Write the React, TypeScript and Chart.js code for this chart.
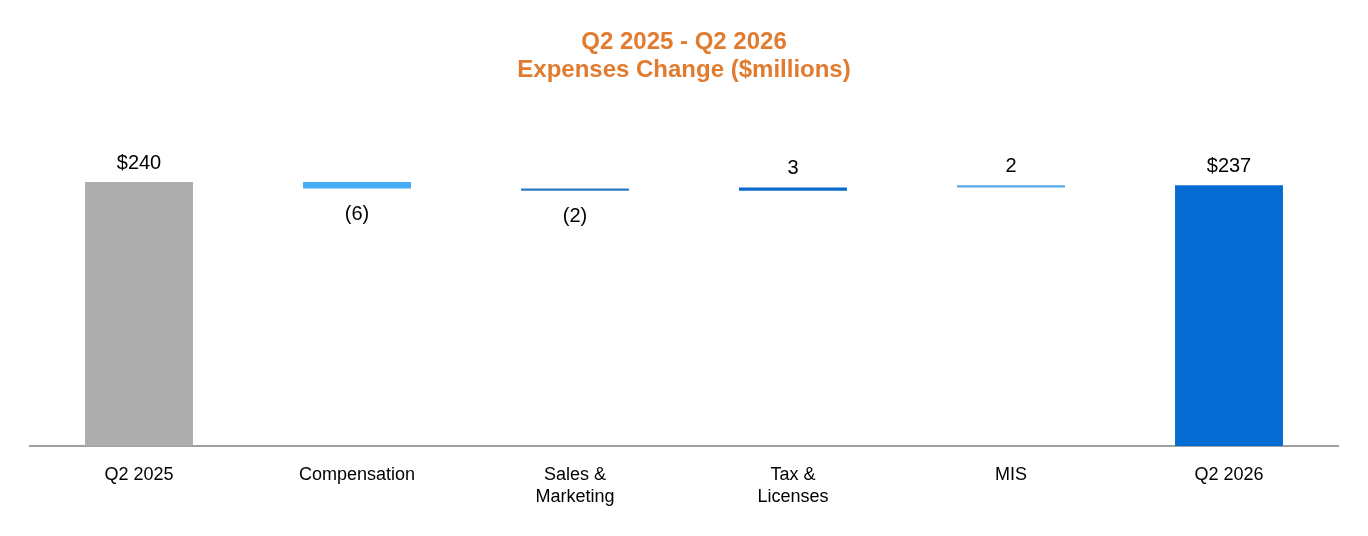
import React, { useEffect, useRef } from "react";
import { Chart, registerables } from "chart.js";

Chart.register(...registerables);

const categories: (string | string[])[] = [
  "Q2 2025",
  "Compensation",
  ["Sales &", "Marketing"],
  ["Tax &", "Licenses"],
  "MIS",
  "Q2 2026",
];
const startValue = 240;
const changes = [-6, -2, 3, 2];
const endValue = 237;
const valueLabels = ["$240", "(6)", "(2)", "3", "2", "$237"];
const barColors = ["#ADADAD", "#45ACF5", "#2F78C2", "#0A6AC9", "#5AAAE6", "#046BD2"];
const titleLines = ["Q2 2025 - Q2 2026", "Expenses Change ($millions)"];

function buildRanges(): [number, number][] {
  const out: [number, number][] = [[0, startValue]];
  let run = startValue;
  for (const c of changes) {
    out.push([run, run + c]);
    run += c;
  }
  out.push([0, endValue]);
  return out;
}

const labelPlugin = {
  id: "wfLabels",
  afterDatasetsDraw(chart: any) {
    const ctx = chart.ctx;
    const meta = chart.getDatasetMeta(0);
    const ranges = chart.data.datasets[0].data as [number, number][];
    ctx.save();
    ctx.font = "20px 'Liberation Sans', Arial, sans-serif";
    ctx.fillStyle = "#000";
    ctx.textAlign = "center";
    ctx.textBaseline = "middle";
    meta.data.forEach((bar: any, i: number) => {
      const [a, b] = ranges[i];
      const yScale = chart.scales.y;
      const top = yScale.getPixelForValue(Math.max(a, b));
      const bottom = yScale.getPixelForValue(Math.min(a, b));
      const neg = b < a;
      const y = neg ? bottom + 26 : top - 19;
      ctx.fillText(valueLabels[i], bar.x, y);
    });
    ctx.restore();
  },
};

export default function App() {
  const ref = useRef<HTMLCanvasElement | null>(null);
  useEffect(() => {
    if (!ref.current) return;
    const chart = new Chart(ref.current, {
      type: "bar",
      data: {
        labels: categories,
        datasets: [
          {
            data: buildRanges() as any,
            backgroundColor: barColors,
            borderWidth: 0,
            borderSkipped: false,
            categoryPercentage: 1,
            barPercentage: 0.495,
          },
        ],
      },
      options: {
        animation: false,
        responsive: false,
        maintainAspectRatio: false,
        layout: { padding: { left: 30, right: 30, top: 8, bottom: 10 } },
        plugins: {
          legend: { display: false },
          tooltip: { enabled: false },
          title: {
            display: true,
            text: titleLines,
            color: "#E07B2F",
            font: { family: "'Liberation Sans', Arial, sans-serif", size: 24, weight: "bold", lineHeight: 28 / 24 },
            padding: { top: 20, bottom: 32 },
          },
        },
        scales: {
          x: {
            grid: { display: false, drawTicks: false },
            border: { display: true, color: "#A0A0A0", width: 2 },
            ticks: {
              color: "#000",
              padding: 18,
              font: { family: "'Liberation Sans', Arial, sans-serif", size: 18, lineHeight: 22 / 18 },
              maxRotation: 0,
              autoSkip: false,
            },
          },
          y: {
            display: false,
            min: 0,
            max: 300,
          },
        },
      },
      plugins: [labelPlugin],
    });
    return () => chart.destroy();
  }, []);
  return (
    <div style={{ position: "fixed", left: 0, top: 0, width: 1368, height: 536, background: "#fff" }}>
      <canvas ref={ref} width={1368} height={536} style={{ width: 1368, height: 536, display: "block" }} />
    </div>
  );
}
